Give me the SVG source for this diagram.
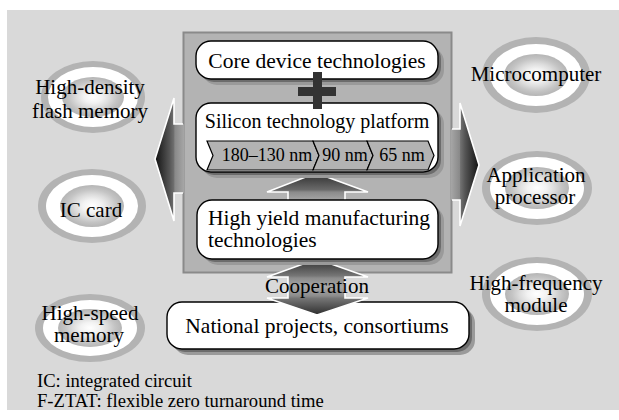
<svg xmlns="http://www.w3.org/2000/svg" width="619" height="420" viewBox="0 0 619 420" font-family="'Liberation Serif', 'Times New Roman', Times, serif">
  <style>
    text { font-family: "Liberation Serif", "Times New Roman", Times, serif; fill: #000; }
    .lbl { font-size: 21px; text-anchor: middle; }
    .box-t { font-size: 21.5px; text-anchor: middle; }
    .lft { font-size: 21.5px; }
    .chev-t { font-size: 18px; text-anchor: middle; }
    .note { font-size: 18.6px; }
    .box { fill: #ffffff; stroke: #000; stroke-width: 1.4; }
    .sh1 { fill: #9a9a9a; }
    .sh2 { fill: #6c6c6c; }
    .ring-o { fill: #b3b3b3; }
    .ring-w { fill: #ffffff; }
    .ring-c { fill: url(#gCore); }
    .chev { fill: #b3b3b3; stroke: #000; stroke-width: 1.2; stroke-linejoin: miter; }
    .edge { fill: none; stroke: #ffffff; stroke-width: 1.6; stroke-linejoin: miter; }
  </style>
  <defs>
    <radialGradient id="gCore" cx="0.5" cy="0.5" r="0.5">
      <stop offset="0" stop-color="#ffffff"/>
      <stop offset="0.3" stop-color="#f2f2f2"/>
      <stop offset="0.55" stop-color="#dcdcdc"/>
      <stop offset="0.78" stop-color="#c4c4c4"/>
      <stop offset="1" stop-color="#b5b5b5"/>
    </radialGradient>
    <linearGradient id="gLeft" gradientUnits="userSpaceOnUse" x1="155" y1="0" x2="184" y2="0">
      <stop offset="0" stop-color="#111"/>
      <stop offset="0.3" stop-color="#3a3a3a"/>
      <stop offset="0.5" stop-color="#555"/>
      <stop offset="0.66" stop-color="#717171"/>
      <stop offset="0.68" stop-color="#888"/>
      <stop offset="1" stop-color="#a6a6a6"/>
    </linearGradient>
    <linearGradient id="gRight" gradientUnits="userSpaceOnUse" x1="479" y1="0" x2="451" y2="0">
      <stop offset="0" stop-color="#111"/>
      <stop offset="0.3" stop-color="#3a3a3a"/>
      <stop offset="0.5" stop-color="#555"/>
      <stop offset="0.66" stop-color="#717171"/>
      <stop offset="0.68" stop-color="#888"/>
      <stop offset="1" stop-color="#a6a6a6"/>
    </linearGradient>
    <linearGradient id="gUp" gradientUnits="userSpaceOnUse" x1="0" y1="173" x2="0" y2="201">
      <stop offset="0" stop-color="#2e2e2e"/>
      <stop offset="0.6" stop-color="#6a6a6a"/>
      <stop offset="0.68" stop-color="#8a8a8a"/>
      <stop offset="1" stop-color="#a8a8a8"/>
    </linearGradient>
    <linearGradient id="gCoop" gradientUnits="userSpaceOnUse" x1="0" y1="259" x2="0" y2="315">
      <stop offset="0" stop-color="#2e2e2e"/>
      <stop offset="0.3" stop-color="#767676"/>
      <stop offset="0.34" stop-color="#8c8c8c"/>
      <stop offset="0.5" stop-color="#a8a8a8"/>
      <stop offset="0.66" stop-color="#8c8c8c"/>
      <stop offset="0.7" stop-color="#767676"/>
      <stop offset="1" stop-color="#2e2e2e"/>
    </linearGradient>
  </defs>

  <!-- page background -->
  <rect x="7" y="10" width="612" height="400" fill="#d9d9d9"/>

  <!-- frame holding the technology stack -->
  <g id="platform-frame">
    <rect x="183.5" y="32.5" width="268" height="240" fill="#b3b3b3" stroke="#8a8a8a" stroke-width="2"/>
  </g>

  <!-- application targets -->
  <g id="flash-memory">
    <ellipse class="ring-o" cx="93" cy="97" rx="52" ry="36"/>
    <ellipse class="ring-w" cx="93" cy="97" rx="45" ry="30"/>
    <ellipse class="ring-c" cx="93" cy="97" rx="31" ry="20"/>
    <text class="lbl" x="90" y="94">High-density</text>
    <text class="lbl" x="90" y="118">flash memory</text>
  </g>
  <g id="ic-card">
    <ellipse class="ring-o" cx="92" cy="206" rx="54" ry="37"/>
    <ellipse class="ring-w" cx="92" cy="206" rx="46" ry="31"/>
    <ellipse class="ring-c" cx="92" cy="206" rx="32" ry="21"/>
    <text class="lbl" x="91" y="217">IC card</text>
  </g>
  <g id="high-speed-memory">
    <ellipse class="ring-o" cx="90" cy="328" rx="55" ry="34"/>
    <ellipse class="ring-w" cx="90" cy="328" rx="47" ry="28"/>
    <ellipse class="ring-c" cx="90" cy="328" rx="32" ry="19"/>
    <text class="lbl" x="90" y="320">High-speed</text>
    <text class="lbl" x="89" y="342">memory</text>
  </g>
  <g id="microcomputer">
    <ellipse class="ring-o" cx="536" cy="75" rx="54" ry="38"/>
    <ellipse class="ring-w" cx="536" cy="75" rx="46" ry="31"/>
    <ellipse class="ring-c" cx="536" cy="75" rx="32" ry="21"/>
    <text class="lbl" x="536" y="81">Microcomputer</text>
  </g>
  <g id="application-processor">
    <ellipse class="ring-o" cx="537" cy="188" rx="55" ry="37"/>
    <ellipse class="ring-w" cx="537" cy="188" rx="47" ry="31"/>
    <ellipse class="ring-c" cx="537" cy="188" rx="32" ry="21"/>
    <text class="lbl" x="536" y="182">Application</text>
    <text class="lbl" x="535" y="204">processor</text>
  </g>
  <g id="high-frequency-module">
    <ellipse class="ring-o" cx="537" cy="294" rx="55" ry="37"/>
    <ellipse class="ring-w" cx="537" cy="294" rx="47" ry="31"/>
    <ellipse class="ring-c" cx="537" cy="294" rx="32" ry="21"/>
    <text class="lbl" x="536" y="290">High-frequency</text>
    <text class="lbl" x="536" y="312">module</text>
  </g>

  <!-- national projects -->
  <g id="national-projects">
    <rect class="sh1" x="173" y="308" width="302" height="47" rx="15"/>
    <rect class="sh2" x="170" y="305" width="302" height="47" rx="15"/>
    <rect class="box" x="167" y="302" width="302" height="47" rx="15"/>
    <text class="box-t" x="317" y="333">National projects, consortiums</text>
  </g>

  <!-- connectors -->
  <g id="connectors">
    <!-- spread to the left -->
    <polygon fill="url(#gLeft)" points="184,124 174,124 174,98 155,159 174,221 174,193 184,193"/>
    <polyline class="edge" points="183,124 174,124 174,98 155,159 174,221 174,193 183,193"/>
    <!-- spread to the right -->
    <polygon fill="url(#gRight)" points="451,129 460,129 460,103 479,165 460,226 460,200 451,200"/>
    <polyline class="edge" points="452,129 460,129 460,103 479,165 460,226 460,200 452,200"/>
    <!-- manufacturing feeds the platform -->
    <polygon fill="url(#gUp)" stroke="#fff" stroke-width="1.6" points="316,173 368,192 345,192 345,201 288,201 288,192 267,192"/>
    <!-- cooperation, both ways -->
    <polygon fill="url(#gCoop)" stroke="#fff" stroke-width="1.6" points="317,259 368,277 345,277 345,298 368,298 317,315 267,298 288,298 288,277 267,277"/>
    <text class="lbl" x="317" y="293">Cooperation</text>
  </g>

  <!-- technology stack inside the frame -->
  <g id="core-device">
    <rect class="sh1" x="202" y="47" width="242" height="38" rx="15"/>
    <rect class="sh2" x="199" y="44" width="242" height="38" rx="15"/>
    <rect class="box" x="196" y="41" width="242" height="38" rx="15"/>
    <text class="box-t" x="317" y="68">Core device technologies</text>
  </g>
  <g id="silicon-platform">
    <rect class="sh1" x="202" y="109" width="242" height="69" rx="15"/>
    <rect class="sh2" x="199" y="106" width="242" height="69" rx="15"/>
    <rect class="box" x="196" y="103" width="242" height="69" rx="15"/>
    <text class="box-t" x="317" y="128" style="font-size:20px">Silicon technology platform</text>
    <polygon class="chev" points="207,141 313,141 319,155.5 313,170 207,170 213,155.5"/>
    <polygon class="chev" points="313,141 367,141 373,155.5 367,170 313,170 319,155.5"/>
    <polygon class="chev" points="367,141 428,141 434,155.5 428,170 367,170 373,155.5"/>
    <text class="chev-t" x="267" y="161">180–130 nm</text>
    <text class="chev-t" x="345" y="161">90 nm</text>
    <text class="chev-t" x="402" y="161">65 nm</text>
  </g>
  <g id="high-yield">
    <rect class="sh1" x="203" y="206" width="241" height="59" rx="15"/>
    <rect class="sh2" x="200" y="203" width="241" height="59" rx="15"/>
    <rect class="box" x="197" y="200" width="241" height="59" rx="15"/>
    <text class="lft" x="208" y="225">High yield manufacturing</text>
    <text class="lft" x="208" y="247">technologies</text>
  </g>

  <!-- plus joining core devices and platform -->
  <g id="plus" fill="#333">
    <rect x="313" y="72" width="9" height="37"/>
    <rect x="298" y="87" width="38" height="9"/>
  </g>

  <!-- abbreviations -->
  <g id="notes">
    <text class="note" x="37" y="387">IC: integrated circuit</text>
    <text class="note" x="37" y="407">F-ZTAT: flexible zero turnaround time</text>
  </g>
</svg>
